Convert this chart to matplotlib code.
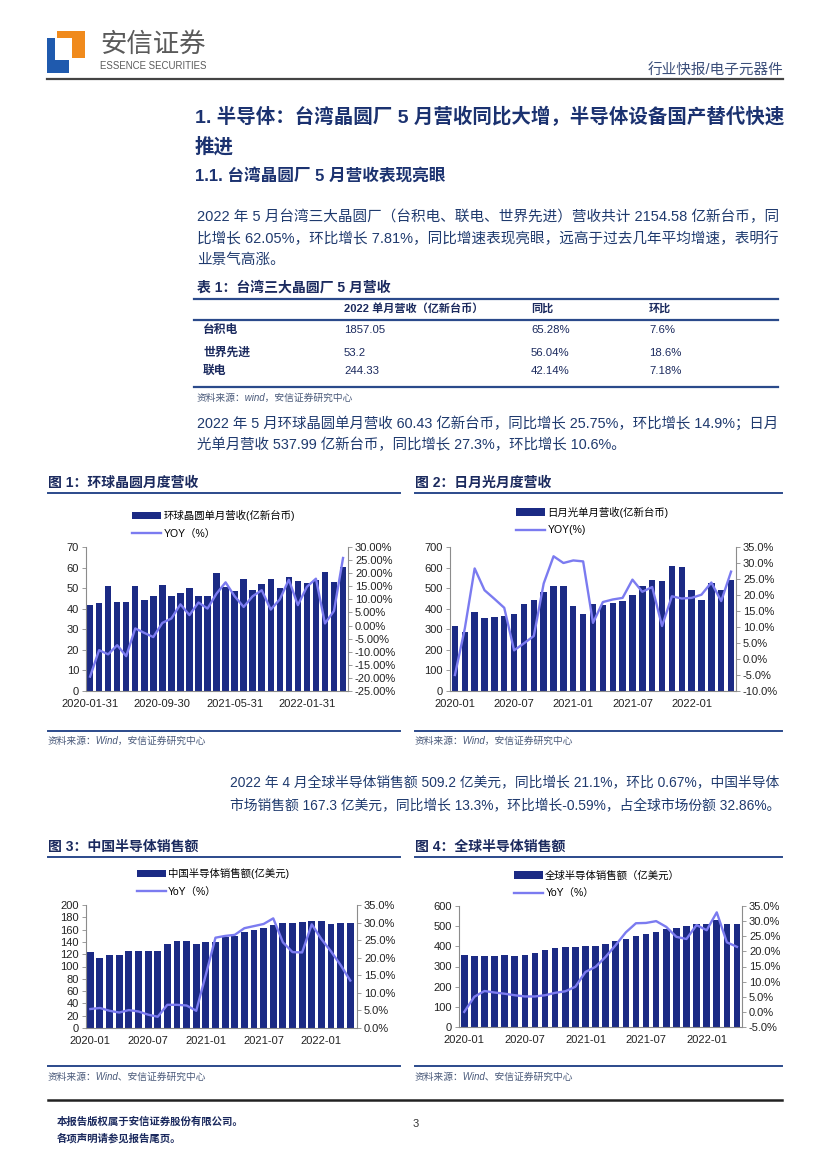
import matplotlib
matplotlib.use('Agg')
import matplotlib.pyplot as plt
from matplotlib.lines import Line2D
from matplotlib.patches import Rectangle
from matplotlib.ticker import FuncFormatter
import numpy as np

plt.rcParams['font.family'] = ['Liberation Sans', 'Noto Sans CJK SC', 'DejaVu Sans']
plt.rcParams['axes.unicode_minus'] = False

# ---------------- data ----------------
gw_labels = ['2020-01-31', '2020-09-30', '2021-05-31', '2022-01-31']
gw_rev = [42, 43, 51, 43.5, 43.5, 51, 44, 46, 51.5, 46, 47.5, 50, 46, 46, 57.5,
          50.5, 48.5, 54.5, 49, 52, 54.5, 50, 55.5, 53.5, 52.5, 54, 58, 53, 60.4]
gw_yoy = [-19.5, -9.4, -11, -7.5, -11.7, -1.1, -2.8, -4.4, 1, 2.7, 8.1, 4, 8.8, 6.5, 12.2,
          16.5, 11.2, 7.1, 11.2, 13.5, 6.1, 10, 17.5, 7.8, 14.8, 17.9, 0.8, 5.6, 25.8]

ase_labels = ['2020-01', '2020-07', '2021-01', '2021-07', '2022-01']
ase_rev = [315, 285, 382, 357, 360, 366, 376, 421, 442, 482, 512, 508, 412, 372, 422,
           420, 427, 437, 466, 508, 542, 533, 607, 602, 492, 443, 523, 491, 538]
ase_yoy = [-5, 9.5, 28.3, 21.5, 18.8, 16, 2.7, 4.9, 7.2, 23.6, 32.1, 30, 30.8, 30.5, 11.3,
           17.8, 18.6, 19.1, 24.8, 21, 22.5, 10.3, 19.6, 18.9, 19.1, 20.1, 23.9, 18.1, 27.3]

cn_labels = ['2020-01', '2020-07', '2021-01', '2021-07', '2022-01']
cn_sales = [124, 114.5, 118, 119.5, 126, 125, 125, 126, 137, 141.5, 141.5, 137, 140, 140,
            148, 149, 156.5, 159, 162, 167, 170, 170, 172, 173.5, 173.5, 168.5, 170, 170]
cn_yoy = [5.4, 5.7, 4.9, 4.4, 5.1, 4.7, 3.8, 3.2, 6.6, 6.6, 6.4, 4.9, 15.2, 25.7,
          26.2, 26.5, 28.4, 29.0, 29.6, 31.2, 24.4, 21.6, 21.5, 29.5, 25.3, 21.8, 17.9, 13.5]

gl_labels = ['2020-01', '2020-07', '2021-01', '2021-07', '2022-01']
gl_sales = [355, 350, 350, 350, 355, 350, 355, 366, 382, 393, 398, 398, 402, 402,
            414, 425, 437, 449, 460, 473, 487, 492, 500, 510, 510, 530, 510, 512]
gl_yoy = [0, 5, 6.9, 6.4, 6.0, 5.5, 5.1, 5.1, 5.5, 6.3, 6.8, 8.3, 13.2, 14.9,
          18.2, 22.1, 26.3, 29.3, 29.4, 30, 28.1, 24.8, 24.1, 28.7, 27, 32.9, 23, 21.5]

tbl_header = ['2022 单月营收（亿新台币）', '同比', '环比']
tbl_names = ['台积电', '世界先进', '联电']
tbl_rev = ['1857.05', '53.2', '244.33']
tbl_yoy = ['65.28%', '56.04%', '42.14%']
tbl_mom = ['7.6%', '18.6%', '7.18%']

# ---------------- page ----------------
W, H = 827, 1170
fig = plt.figure(figsize=(W / 100, H / 100), dpi=100)

NAVY = '#1F3A6E'
TITLE = '#1B3270'
BAR = '#1B2A84'
LINE = '#7B7BF0'
SRC = '#4A5A7A'
CJK = ['Noto Sans CJK SC', 'DejaVu Sans']


def fx(x):
    return x / W


def fy(y):
    return 1 - y / H


def txt(x, y, s, size=10, color=NAVY, weight='normal', ha='left', va='center',
        style='normal', family=None):
    kw = {}
    if family is not None:
        kw['family'] = family
    fig.text(fx(x), fy(y), s, fontsize=size, color=color, fontweight=weight,
             ha=ha, va=va, style=style, **kw)


def hline(x0, x1, y, color, lw):
    fig.add_artist(Line2D([fx(x0), fx(x1)], [fy(y), fy(y)],
                          transform=fig.transFigure, color=color, lw=lw))


def rect(x0, y0, x1, y1, color):
    fig.add_artist(Rectangle((fx(x0), fy(y1)), (x1 - x0) / W, (y1 - y0) / H,
                             transform=fig.transFigure, color=color, lw=0))


# logo
rect(57, 31, 85, 38, '#F08A1C')
rect(72, 31, 85, 58, '#F08A1C')
rect(47, 38, 55, 73, '#1F5AAE')
rect(47, 60, 69, 73, '#1F5AAE')
txt(100, 44, '安信证券', size=19, color='#5A5A5A', family=CJK)
txt(100, 66, 'ESSENCE SECURITIES', size=6.9, color='#5A5A5A')
txt(783, 71, '行业快报/电子元器件', size=10.5, color='#3C4F7A', ha='right')
hline(47, 783, 79, '#444444', 1.6)

# titles
txt(195, 117, '1. 半导体：台湾晶圆厂 5 月营收同比大增，半导体设备国产替代快速',
    size=14, color=TITLE, weight='bold')
txt(195, 147, '推进', size=14, color=TITLE, weight='bold')
txt(195, 176, '1.1. 台湾晶圆厂 5 月营收表现亮眼', size=12, color=TITLE, weight='bold')

txt(197, 217, '2022 年 5 月台湾三大晶圆厂（台积电、联电、世界先进）营收共计 2154.58 亿新台币，同',
    size=10.5)
txt(197, 239, '比增长 62.05%，环比增长 7.81%，同比增速表现亮眼，远高于过去几年平均增速，表明行',
    size=10.5)
txt(197, 260, '业景气高涨。', size=10.5)

# table
TC = '#1B2A5E'
txt(197, 288, '表 1：台湾三大晶圆厂 5 月营收', size=10, color=TC, weight='bold')
hline(194, 778, 299, '#2B4A8B', 1.6)
hline(194, 778, 320, '#2B4A8B', 1.6)
hline(194, 778, 387, '#2B4A8B', 1.6)
col_x = [344, 531, 649]
for cx, h in zip(col_x, tbl_header):
    txt(cx, 308, h, size=8, color=TC, weight='bold')
row_y = [330, 353, 371]
for ry, n, a, b, c in zip(row_y, tbl_names, tbl_rev, tbl_yoy, tbl_mom):
    txt(203, ry, n, size=8.5, color=TC, weight='bold')
    txt(col_x[0], ry, a, size=8.2, color=TC)
    txt(col_x[1], ry, b, size=8.2, color=TC)
    txt(col_x[2], ry, c, size=8.2, color=TC)
txt(197, 398, '资料来源：wind，安信证券研究中心', size=7, color=SRC, style='italic')

txt(197, 423, '2022 年 5 月环球晶圆单月营收 60.43 亿新台币，同比增长 25.75%，环比增长 14.9%；日月',
    size=10.4)
txt(197, 445, '光单月营收 537.99 亿新台币，同比增长 27.3%，环比增长 10.6%。', size=10.4)

txt(230, 782, '2022 年 4 月全球半导体销售额 509.2 亿美元，同比增长 21.1%，环比 0.67%，中国半导体',
    size=9.9)
txt(230, 805, '市场销售额 167.3 亿美元，同比增长 13.3%，环比增长-0.59%，占全球市场份额 32.86%。',
    size=9.9)

# chart frames
HC = '#1B2A5E'
txt(48, 483, '图 1：环球晶圆月度营收', size=10, color=HC, weight='bold')
txt(415, 483, '图 2：日月光月度营收', size=10, color=HC, weight='bold')
hline(48, 400, 493, '#2B4A8B', 1.4)
hline(415, 782, 493, '#2B4A8B', 1.4)
hline(48, 400, 731, '#2B4A8B', 1.4)
hline(415, 782, 731, '#2B4A8B', 1.4)
txt(48, 741, '资料来源：Wind，安信证券研究中心', size=7, color=SRC, style='italic')
txt(415, 741, '资料来源：Wind，安信证券研究中心', size=7, color=SRC, style='italic')

txt(48, 847, '图 3：中国半导体销售额', size=10, color=HC, weight='bold')
txt(415, 847, '图 4：全球半导体销售额', size=10, color=HC, weight='bold')
hline(48, 400, 857, '#2B4A8B', 1.4)
hline(415, 782, 857, '#2B4A8B', 1.4)
hline(48, 400, 1066, '#2B4A8B', 1.4)
hline(415, 782, 1066, '#2B4A8B', 1.4)
txt(48, 1077, '资料来源：Wind、安信证券研究中心', size=7, color=SRC, style='italic')
txt(415, 1077, '资料来源：Wind、安信证券研究中心', size=7, color=SRC, style='italic')

# footer
hline(48, 782, 1100, '#222222', 1.8)
txt(57, 1122, '本报告版权属于安信证券股份有限公司。', size=7.5, color=TC, weight='bold')
txt(57, 1138, '各项声明请参见报告尾页。', size=7.5, color=TC, weight='bold')
txt(413, 1124, '3', size=8, color='#333333')


def make_chart(box, vals, yoy, tick_idx, tick_labels, ylim_l, step_l, ylim_r, step_r,
               rdec, bar_w, xlim, leg_xy, labels):
    x0, y0, x1, y1 = box
    ax = fig.add_axes([fx(x0), fy(y1), (x1 - x0) / W, (y1 - y0) / H])
    x = np.arange(len(vals))
    bars = ax.bar(x, vals, width=bar_w, color=BAR, zorder=2)
    ax.set_xlim(*xlim)
    ax.set_ylim(*ylim_l)
    ax.set_yticks(np.arange(ylim_l[0], ylim_l[1] + step_l / 2, step_l))
    ax.set_xticks(tick_idx)
    ax.set_xticklabels(tick_labels)
    for s in ['top', 'right']:
        ax.spines[s].set_visible(False)
    for s in ['left', 'bottom']:
        ax.spines[s].set_color('#8C8C8C')
        ax.spines[s].set_linewidth(0.8)
    ax.tick_params(axis='y', direction='out', length=3, width=0.6, color='#8C8C8C',
                   labelsize=8, pad=2, labelcolor='#222222')
    ax.tick_params(axis='x', length=0, labelsize=8, pad=6, labelcolor='#222222')

    ax2 = ax.twinx()
    line, = ax2.plot(x, yoy, color=LINE, lw=1.7, zorder=3)
    ax2.set_ylim(*ylim_r)
    ax2.set_yticks(np.arange(ylim_r[0], ylim_r[1] + step_r / 2, step_r))
    ax2.yaxis.set_major_formatter(FuncFormatter(lambda v, p: f'{v:.{rdec}f}%'))
    for s in ['top', 'left', 'bottom']:
        ax2.spines[s].set_visible(False)
    ax2.spines['right'].set_color('#8C8C8C')
    ax2.spines['right'].set_linewidth(0.8)
    ax2.tick_params(axis='y', direction='out', length=3, width=0.6, color='#8C8C8C',
                    labelsize=8, pad=2, labelcolor='#222222')
    ax2.set_xlim(*xlim)

    fig.legend([bars, line], labels, loc='center left',
               bbox_to_anchor=(fx(leg_xy[0]), fy(leg_xy[1])), frameon=False,
               fontsize=7.5, handlelength=2.8, handleheight=0.75, labelspacing=0.75,
               borderpad=0, borderaxespad=0, handletextpad=0.2)
    return ax, ax2


make_chart((86, 547, 348, 691), gw_rev, gw_yoy, [0, 8, 16, 24], gw_labels,
           (0, 70), 10, (-25, 30), 5, 2, 0.72, (-0.45, 28.55), (132, 524.5),
           ['环球晶圆单月营收(亿新台币)', 'YOY（%）'])

make_chart((450, 547, 736, 691), ase_rev, ase_yoy, [0, 6, 12, 18, 24], ase_labels,
           (0, 700), 100, (-10, 35), 5, 1, 0.65, (-0.5, 28.5), (516, 521),
           ['日月光单月营收(亿新台币)', 'YOY(%)'])

make_chart((86, 905, 357, 1028), cn_sales, cn_yoy, [0, 6, 12, 18, 24], cn_labels,
           (0, 200), 20, (0, 35), 5, 1, 0.72, (-0.45, 27.7), (137, 882.5),
           ['中国半导体销售额(亿美元)', 'YoY（%）'])

make_chart((459, 906, 742, 1027), gl_sales, gl_yoy, [0, 6, 12, 18, 24], gl_labels,
           (0, 600), 100, (-5, 35), 5, 1, 0.65, (-0.52, 27.5), (514, 884.5),
           ['全球半导体销售额（亿美元）', 'YoY（%）'])

fig.savefig('out.png', dpi=100)
